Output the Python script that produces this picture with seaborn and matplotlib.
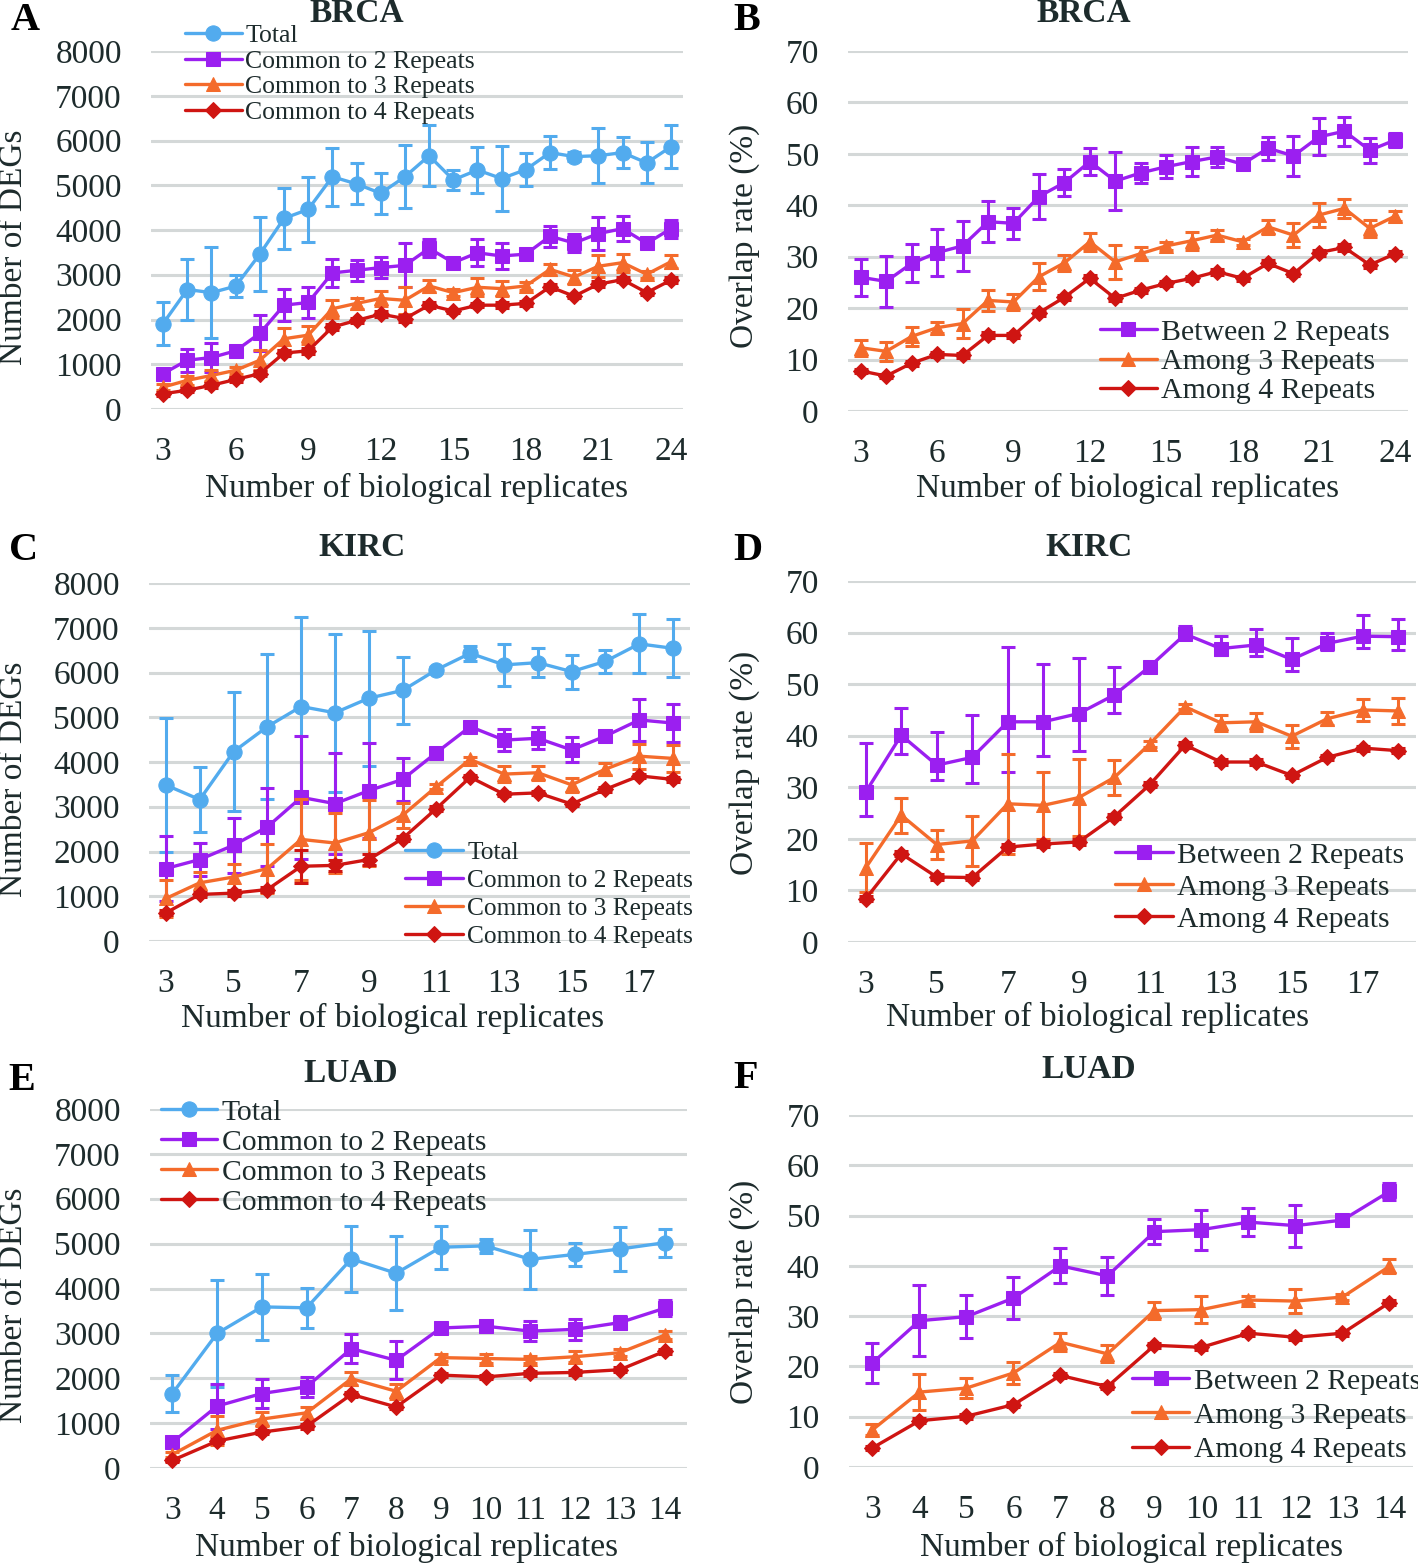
import numpy as np
import pandas as pd
import seaborn as sns
import matplotlib
matplotlib.use("Agg")
import matplotlib.pyplot as plt

# ---------------- data ----------------
brca_reps = [3, 4, 5, 6, 7, 8, 9, 10, 11, 12, 13, 14, 15, 16, 17, 18, 19, 20, 21, 22, 23, 24]
brca_total = [1910, 2670, 2600, 2745, 3460, 4260, 4460, 5190, 5030, 4820, 5190, 5660, 5120, 5340, 5150, 5350, 5730, 5640, 5660, 5730, 5500, 5860]
brca_total_err = [480, 680, 1010, 250, 820, 680, 720, 650, 460, 460, 700, 680, 230, 510, 730, 370, 370, 100, 620, 350, 460, 480]
brca_c2 = [790, 1090, 1150, 1300, 1690, 2320, 2380, 3040, 3100, 3160, 3210, 3590, 3270, 3490, 3420, 3460, 3860, 3710, 3920, 4030, 3700, 4030]
brca_c2_err = [100, 260, 320, 80, 400, 360, 340, 310, 240, 240, 490, 200, 100, 300, 290, 80, 240, 210, 370, 280, 80, 200]
brca_c3 = [490, 640, 750, 865, 1090, 1570, 1650, 2240, 2360, 2470, 2430, 2750, 2600, 2720, 2690, 2750, 3120, 2950, 3190, 3270, 3010, 3290]
brca_c3_err = [60, 100, 120, 80, 220, 250, 200, 200, 120, 160, 300, 140, 80, 200, 170, 80, 130, 150, 250, 200, 80, 150]
brca_c4 = [340, 420, 530, 660, 790, 1250, 1300, 1830, 1980, 2120, 2020, 2320, 2190, 2320, 2320, 2360, 2730, 2520, 2790, 2890, 2600, 2880]
brca_c4_err = [40, 50, 60, 50, 60, 70, 60, 60, 50, 60, 70, 60, 50, 50, 60, 50, 60, 50, 60, 50, 50, 60]

brca_b2 = [26.0, 25.2, 28.7, 30.8, 32.1, 36.8, 36.5, 41.7, 44.4, 48.5, 44.7, 46.3, 47.5, 48.5, 49.4, 48.0, 51.1, 49.6, 53.3, 54.4, 50.7, 52.7]
brca_b2_err = [3.6, 4.9, 3.7, 4.5, 4.9, 4.0, 3.0, 4.4, 2.6, 2.7, 5.7, 1.9, 2.2, 2.9, 2.0, 1.0, 2.2, 3.9, 3.6, 2.8, 2.4, 1.3]
brca_a3 = [12.3, 11.6, 14.5, 16.2, 17.0, 21.5, 21.2, 26.1, 28.8, 32.9, 29.0, 30.6, 32.1, 33.1, 34.2, 32.9, 35.8, 34.2, 38.1, 39.4, 35.5, 37.9]
brca_a3_err = [1.6, 1.8, 1.8, 1.1, 2.8, 2.1, 1.6, 2.6, 1.5, 1.8, 3.3, 1.2, 0.8, 1.7, 1.0, 0.6, 1.3, 2.3, 2.4, 1.8, 1.6, 1.0]
brca_a4 = [7.8, 6.8, 9.3, 11.0, 10.8, 14.7, 14.7, 19.1, 22.1, 25.8, 21.9, 23.5, 24.8, 25.8, 27.1, 25.8, 28.7, 26.7, 30.8, 31.8, 28.4, 30.6]
brca_a4_err = [0.4, 0.4, 0.5, 0.5, 0.5, 0.6, 0.5, 0.6, 0.5, 0.6, 0.6, 0.5, 0.5, 0.5, 0.6, 0.5, 0.6, 0.5, 0.6, 0.6, 0.5, 0.5]

kirc_reps = [3, 4, 5, 6, 7, 8, 9, 10, 11, 12, 13, 14, 15, 16, 17, 18]
kirc_total = [3485, 3160, 4230, 4790, 5240, 5100, 5425, 5600, 6060, 6430, 6170, 6220, 6020, 6250, 6640, 6540]
kirc_total_err = [1490, 730, 1330, 1620, 2000, 1760, 1510, 750, 60, 170, 470, 330, 380, 260, 660, 650]
kirc_c2 = [1620, 1820, 2140, 2550, 3210, 3070, 3360, 3610, 4210, 4790, 4490, 4530, 4270, 4580, 4940, 4870]
kirc_c2_err = [720, 370, 610, 880, 1380, 1130, 1060, 490, 60, 60, 250, 250, 280, 80, 460, 420]
kirc_c3 = [950, 1300, 1430, 1620, 2270, 2190, 2420, 2810, 3450, 4060, 3730, 3760, 3490, 3840, 4130, 4080]
kirc_c3_err = [410, 250, 280, 540, 900, 660, 740, 280, 60, 60, 170, 160, 160, 130, 280, 300]
kirc_c4 = [630, 1040, 1070, 1150, 1670, 1690, 1820, 2290, 2960, 3660, 3280, 3310, 3060, 3390, 3690, 3610]
kirc_c4_err = [60, 60, 60, 60, 370, 130, 130, 60, 50, 50, 50, 50, 50, 50, 50, 50]

kirc_b2 = [29.1, 40.1, 34.3, 35.8, 42.7, 42.7, 44.3, 47.9, 53.4, 59.7, 56.9, 57.6, 54.8, 57.9, 59.3, 59.2]
kirc_b2_lo = [4.7, 3.6, 2.9, 4.9, 9.7, 6.6, 7.2, 3.4, 0.5, 1.0, 1.3, 2.2, 2.3, 1.3, 2.2, 2.6]
kirc_b2_hi = [9.4, 5.3, 6.5, 8.2, 14.5, 11.3, 10.8, 5.5, 0.5, 1.6, 2.4, 3.0, 4.1, 2.1, 4.2, 3.4]
kirc_a3 = [14.4, 24.6, 18.9, 19.6, 26.8, 26.5, 28.0, 31.9, 38.4, 45.6, 42.5, 42.7, 39.9, 43.3, 45.0, 44.8]
kirc_a3_err = [4.8, 3.4, 2.9, 4.8, 9.7, 6.5, 7.4, 3.3, 0.5, 0.5, 1.5, 1.8, 2.2, 1.3, 2.2, 2.6]
kirc_a4 = [8.4, 17.1, 12.6, 12.5, 18.4, 19.0, 19.4, 24.3, 30.5, 38.2, 34.9, 34.9, 32.3, 35.8, 37.6, 37.1]
kirc_a4_err = [0.5, 0.5, 0.5, 0.5, 0.6, 0.5, 0.5, 0.5, 0.5, 0.5, 0.5, 0.5, 0.5, 0.5, 0.5, 0.5]

luad_reps = [3, 4, 5, 6, 7, 8, 9, 10, 11, 12, 13, 14]
luad_total = [1660, 3000, 3590, 3570, 4660, 4340, 4920, 4950, 4650, 4760, 4880, 5020]
luad_total_err = [420, 1190, 740, 440, 740, 820, 480, 150, 650, 250, 490, 310]
luad_c2 = [570, 1380, 1660, 1810, 2660, 2400, 3120, 3160, 3050, 3090, 3240, 3560]
luad_c2_err = [80, 500, 330, 220, 320, 420, 60, 90, 220, 230, 150, 180]
luad_c3 = [300, 840, 1090, 1230, 1990, 1710, 2460, 2440, 2420, 2480, 2570, 2960]
luad_c3_err = [60, 320, 160, 130, 150, 170, 80, 100, 70, 120, 80, 90]
luad_c4 = [170, 600, 800, 930, 1640, 1360, 2070, 2030, 2110, 2130, 2190, 2600]
luad_c4_err = [40, 50, 50, 50, 60, 50, 50, 50, 50, 50, 50, 50]

luad_b2 = [20.7, 29.1, 29.9, 33.6, 40.0, 38.0, 46.8, 47.2, 48.7, 48.0, 49.1, 54.8]
luad_b2_err = [4.0, 7.0, 4.3, 4.2, 3.5, 3.8, 2.5, 4.0, 2.8, 4.2, 0.6, 1.7]
luad_a3 = [7.4, 14.9, 15.7, 18.7, 24.8, 22.5, 31.1, 31.3, 33.2, 33.0, 33.8, 39.9]
luad_a3_err = [1.1, 3.6, 2.0, 2.2, 1.8, 1.7, 1.7, 2.7, 0.8, 2.3, 0.6, 1.4]
luad_a4 = [3.8, 9.2, 10.1, 12.4, 18.2, 16.0, 24.2, 23.8, 26.6, 25.8, 26.6, 32.7]
luad_a4_err = [0.4, 0.5, 0.5, 0.5, 0.5, 0.5, 0.5, 0.5, 0.5, 0.5, 0.5, 0.5]

deg_labels = ["Total", "Common to 2 Repeats", "Common to 3 Repeats", "Common to 4 Repeats"]
ovl_labels = ["Between 2 Repeats", "Among 3 Repeats", "Among 4 Repeats"]

# ---------------- style ----------------
BLUE, PURPLE, ORANGE, RED = "#52abee", "#9b1ff0", "#f46b2b", "#cf1512"
TXT = "#1d2b2c"
GRID = "#d4d8d8"

sns.set_theme(style="white")
plt.rcParams["font.family"] = ["Liberation Serif", "DejaVu Serif"]
plt.rcParams["text.color"] = TXT
plt.rcParams["axes.labelcolor"] = TXT
plt.rcParams["xtick.color"] = TXT
plt.rcParams["ytick.color"] = TXT

W, H = 1418, 1565
fig = plt.figure(figsize=(W / 100, H / 100), dpi=100)


def fx(x):
    return x / W


def fy(y):
    return 1 - y / H


def add_ax(left, top, right, bottom):
    # pixel box of the plot area
    return fig.add_axes([fx(left), fy(bottom), fx(right - left), (bottom - top) / H])


def draw_series(ax, reps, vals, err, color, marker, ms, label, z):
    ax.errorbar(reps, vals, yerr=err, fmt="none", ecolor=color, elinewidth=2.2,
                capsize=5, capthick=2.2, zorder=z, clip_on=False)
    df = pd.DataFrame({"reps": reps, "val": vals})
    sns.lineplot(data=df, x="reps", y="val", ax=ax, color=color, marker=marker,
                 markersize=ms, markeredgecolor=color, linewidth=2.4, label=label,
                 zorder=z + 0.5, clip_on=False)


def style_ax(ax, reps, xticks, ymax, ystep):
    ax.set_xlim(reps[0] - 0.5, reps[-1] + 0.5)
    ax.set_ylim(0, ymax)
    ax.set_xticks(xticks)
    ax.set_yticks(np.arange(0, ymax + 1, ystep))
    for s in ax.spines.values():
        s.set_visible(False)
    ax.grid(axis="y", color=GRID, linewidth=2.2)
    ax.grid(axis="x", visible=False)
    ax.set_axisbelow(True)
    ax.tick_params(axis="both", length=0, labelsize=24)
    ax.tick_params(axis="x", pad=19.5)
    ax.tick_params(axis="y", pad=21)


def finish(ax, xlab_xy, ylab, ylab_xy, title, title_xy, letter, letter_xy,
           leg_xy, leg_fs, leg_hl, leg_sp):
    ax.set_xlabel("Number of biological replicates", fontsize=24)
    ax.xaxis.set_label_coords(fx(xlab_xy[0]), fy(xlab_xy[1]), transform=fig.transFigure)
    ax.xaxis.label.set_va("center")
    ax.set_ylabel(ylab, fontsize=24)
    ax.yaxis.set_label_coords(fx(ylab_xy[0]), fy(ylab_xy[1]), transform=fig.transFigure)
    ax.yaxis.label.set_va("center")
    fig.text(fx(title_xy[0]), fy(title_xy[1]), title, fontsize=24, fontweight="bold",
             ha="center", va="center")
    fig.text(fx(letter_xy[0]), fy(letter_xy[1]), letter, fontsize=29, fontweight="bold",
             ha="center", va="center", color="black")
    ax.legend(loc="upper left", bbox_to_anchor=(fx(leg_xy[0]), fy(leg_xy[1])),
              bbox_transform=fig.transFigure, frameon=False, fontsize=leg_fs,
              borderpad=0, borderaxespad=0, handlelength=leg_hl, handletextpad=0.15,
              labelspacing=leg_sp)


deg_style = [(BLUE, "o", 11), (PURPLE, "s", 9.5), (ORANGE, "^", 10), (RED, "D", 8.5)]
ovl_style = [(PURPLE, "s", 9.5), (ORANGE, "^", 10), (RED, "D", 8.5)]

# ---------------- A: BRCA DEGs ----------------
ax = add_ax(151, 51, 683, 409)
style_ax(ax, brca_reps, [3, 6, 9, 12, 15, 18, 21, 24], 8000, 1000)
for i, (v, e) in enumerate([(brca_total, brca_total_err), (brca_c2, brca_c2_err),
                            (brca_c3, brca_c3_err), (brca_c4, brca_c4_err)]):
    c, m, ms = deg_style[i]
    draw_series(ax, brca_reps, v, e, c, m, ms, deg_labels[i], 3 + i)
finish(ax, (417, 488), "Number of DEGs", (14, 247), "BRCA", (357, 13), "A", (25, 20),
       (185, 24), 18.5, 2.2, 0.10)

# ---------------- B: BRCA overlap ----------------
ax = add_ax(848, 51, 1408, 411)
style_ax(ax, brca_reps, [3, 6, 9, 12, 15, 18, 21, 24], 70, 10)
for i, (v, e) in enumerate([(brca_b2, brca_b2_err), (brca_a3, brca_a3_err), (brca_a4, brca_a4_err)]):
    c, m, ms = ovl_style[i]
    draw_series(ax, brca_reps, v, e, c, m, ms, ovl_labels[i], 3 + i)
finish(ax, (1128, 488), "Overlap rate (%)", (745, 236), "BRCA", (1084, 13), "B", (747, 20),
       (1100, 319), 21.5, 1.9, 0.08)

# ---------------- C: KIRC DEGs ----------------
ax = add_ax(149, 583, 690, 941)
style_ax(ax, kirc_reps, [3, 5, 7, 9, 11, 13, 15, 17], 8000, 1000)
for i, (v, e) in enumerate([(kirc_total, kirc_total_err), (kirc_c2, kirc_c2_err),
                            (kirc_c3, kirc_c3_err), (kirc_c4, kirc_c4_err)]):
    c, m, ms = deg_style[i]
    draw_series(ax, kirc_reps, v, e, c, m, ms, deg_labels[i], 3 + i)
finish(ax, (393, 1018), "Number of DEGs", (14, 779), "KIRC", (362, 548), "C", (24, 550),
       (405, 841), 18.3, 2.3, 0.21)

# ---------------- D: KIRC overlap ----------------
ax = add_ax(848, 581, 1416, 942)
style_ax(ax, kirc_reps, [3, 5, 7, 9, 11, 13, 15, 17], 70, 10)
for i, (v, e) in enumerate([(kirc_b2, [kirc_b2_lo, kirc_b2_hi]), (kirc_a3, kirc_a3_err),
                            (kirc_a4, kirc_a4_err)]):
    c, m, ms = ovl_style[i]
    draw_series(ax, kirc_reps, v, e, c, m, ms, ovl_labels[i], 3 + i)
finish(ax, (1098, 1017), "Overlap rate (%)", (745, 763), "KIRC", (1089, 547), "D", (748, 550),
       (1115, 842), 21.3, 1.95, 0.18)

# ---------------- E: LUAD DEGs ----------------
ax = add_ax(150, 1109, 687, 1468)
style_ax(ax, luad_reps, luad_reps, 8000, 1000)
for i, (v, e) in enumerate([(luad_total, luad_total_err), (luad_c2, luad_c2_err),
                            (luad_c3, luad_c3_err), (luad_c4, luad_c4_err)]):
    c, m, ms = deg_style[i]
    draw_series(ax, luad_reps, v, e, c, m, ms, deg_labels[i], 3 + i)
finish(ax, (407, 1547), "Number of DEGs", (14, 1305), "LUAD", (351, 1073), "E", (22, 1080),
       (161, 1099), 21.3, 1.9, 0.11)

# ---------------- F: LUAD overlap ----------------
ax = add_ax(849, 1115, 1413, 1467)
style_ax(ax, luad_reps, luad_reps, 70, 10)
for i, (v, e) in enumerate([(luad_b2, luad_b2_err), (luad_a3, luad_a3_err), (luad_a4, luad_a4_err)]):
    c, m, ms = ovl_style[i]
    draw_series(ax, luad_reps, v, e, c, m, ms, ovl_labels[i], 3 + i)
finish(ax, (1132, 1547), "Overlap rate (%)", (745, 1292), "LUAD", (1089, 1070), "F", (746, 1079),
       (1132, 1368), 21.3, 1.93, 0.25)

fig.savefig("out.png", dpi=100)
